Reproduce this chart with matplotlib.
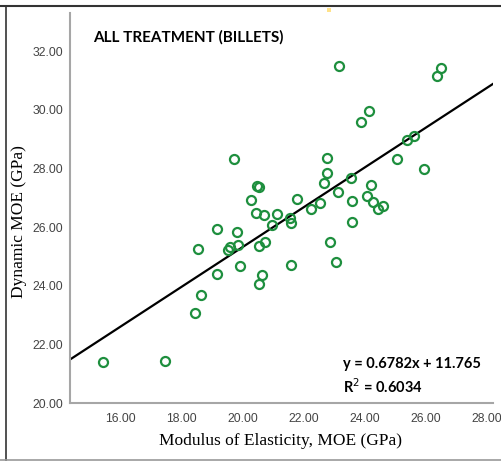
import numpy as np
import matplotlib
matplotlib.use('Agg')
import matplotlib.pyplot as plt
from matplotlib.lines import Line2D
from matplotlib.patches import Rectangle

# static MOE (x) vs dynamic MOE (y), GPa
moe_static = [15.42, 17.44, 18.62, 18.44, 18.52, 19.14, 19.14, 19.52, 19.58, 19.85,
              19.82, 19.90, 19.72, 20.26, 20.47, 20.52, 20.43, 20.69, 20.53, 20.72,
              20.63, 20.53, 20.94, 21.11, 21.54, 21.57, 21.57, 21.76, 22.22, 22.53,
              22.67, 22.77, 22.77, 22.85, 23.05, 23.13, 23.15, 23.54, 23.57, 23.59,
              23.86, 24.13, 24.08, 24.20, 24.26, 24.44, 24.60, 25.04, 25.39, 25.61,
              25.94, 26.37, 26.48]
moe_dynamic = [21.39, 21.44, 23.68, 23.08, 25.27, 24.40, 25.94, 25.22, 25.33, 25.39,
               25.85, 24.68, 28.33, 26.93, 27.40, 27.36, 26.49, 26.41, 25.36, 25.48,
               24.38, 24.06, 26.07, 26.45, 26.30, 26.13, 24.72, 26.96, 26.61, 26.84,
               27.50, 27.84, 28.35, 25.48, 24.80, 27.21, 31.51, 27.67, 26.90, 26.19,
               29.58, 29.98, 27.08, 27.44, 26.87, 26.61, 26.73, 28.32, 28.98, 29.12,
               27.99, 31.17, 31.42]

slope = 0.6782
intercept = 11.765
r2 = 0.6034

x_ticks = [16, 18, 20, 22, 24, 26, 28]
y_ticks = [20, 22, 24, 26, 28, 30, 32]
x_range = (14.33, 28.2)
y_range = (20, 33.31)

fig = plt.figure(figsize=(5.02, 4.61), dpi=100)
ax = fig.add_axes([0.1394, 0.1258, 0.8426, 0.846])

ax.plot(moe_static, moe_dynamic, 'o', ms=6.5, mfc='none', mec='#1e8f3e', mew=1.6, zorder=3)

xs = np.array(x_range)
ax.plot(xs, slope * xs + intercept, color='black', lw=1.6, zorder=2)

ax.set_xlim(*x_range)
ax.set_ylim(*y_range)
ax.set_xticks(x_ticks)
ax.set_yticks(y_ticks)
ax.set_xticklabels([f'{v:.2f}' for v in x_ticks])
ax.set_yticklabels([f'{v:.2f}' for v in y_ticks])
for lab in ax.get_xticklabels() + ax.get_yticklabels():
    lab.set_family('Liberation Sans')
    lab.set_fontsize(8.8)
    lab.set_color('#444444')
ax.tick_params(length=0, pad=5)
ax.tick_params(axis='x', pad=7)

for s in ['top', 'right']:
    ax.spines[s].set_visible(False)
for s in ['left', 'bottom']:
    ax.spines[s].set_color('#a6a6a6')
    ax.spines[s].set_linewidth(1.5)

ax.set_xlabel('Modulus of Elasticity, MOE (GPa)', family='Liberation Serif', fontsize=12.5)
ax.xaxis.set_label_coords(0.498, -0.078)
ax.set_ylabel('Dynamic MOE (GPa)', family='Liberation Serif', fontsize=12.5)
ax.yaxis.set_label_coords(-0.102, 0.464)

ax.text(0.055, 0.938, 'ALL TREATMENT (BILLETS)', transform=ax.transAxes, family='Lato',
        fontweight='bold', fontsize=11, va='center', ha='left')
ax.text(0.645, 0.10, f'y = {slope}x + {intercept}', transform=ax.transAxes, family='Lato',
        fontweight='bold', fontsize=10.5, va='center', ha='left')
ax.text(0.645, 0.041, f'R$^2$ = {r2}', transform=ax.transAxes, family='Lato',
        fontweight='bold', fontsize=10.5, va='center', ha='left')

# frame around the picture
fig.add_artist(Line2D([0.0, 1.0], [0.986, 0.986], transform=fig.transFigure, color='#333333', lw=1.5))
fig.add_artist(Line2D([0.011, 0.011], [0.0, 0.986], transform=fig.transFigure, color='#333333', lw=1.2))
fig.add_artist(Line2D([0.0, 1.0], [0.003, 0.003], transform=fig.transFigure, color='#999999', lw=1.2))
fig.add_artist(Rectangle((0.651, 0.974), 0.008, 0.008, transform=fig.transFigure, color='#ffe28a', lw=0))

fig.savefig('out.png', dpi=100)
